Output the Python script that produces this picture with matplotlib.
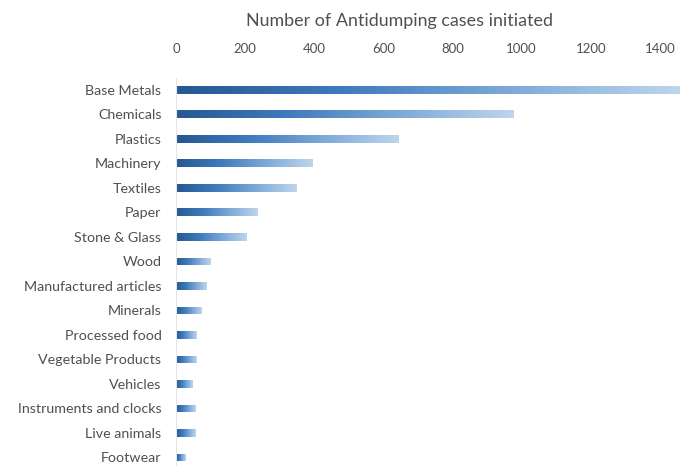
import numpy as np
import matplotlib
matplotlib.use("Agg")
import matplotlib.pyplot as plt
from matplotlib.colors import LinearSegmentedColormap
from matplotlib.patches import Rectangle

categories = [
    "Base Metals", "Chemicals", "Plastics", "Machinery", "Textiles", "Paper",
    "Stone & Glass", "Wood", "Manufactured articles", "Minerals",
    "Processed food", "Vegetable Products", "Vehicles",
    "Instruments and clocks", "Live animals", "Footwear",
]
cases = [1458, 977, 643, 394, 348, 235, 203, 99, 87, 73, 58, 58, 48, 55, 55, 27]
x_ticks = [0, 200, 400, 600, 800, 1000, 1200, 1400]
title = "Number of Antidumping cases initiated"

plt.rcParams["font.family"] = ["Lato", "DejaVu Sans"]

fig = plt.figure(figsize=(6.94, 4.66), dpi=100)
ax = fig.add_axes([0.2536, -0.008, 0.747, 0.8414])

cmap = LinearSegmentedColormap.from_list(
    "bar_grad", ["#245891", "#3f7bbd", "#7eaad8", "#bed5ec"])
grad = np.linspace(0, 1, 256).reshape(1, -1)

bar_h = 0.32
ypos = np.arange(len(categories))
bars = ax.barh(ypos, cases, height=bar_h, color="none", edgecolor="none")
for bar in bars:
    x0, y0 = bar.get_x(), bar.get_y()
    w, h = bar.get_width(), bar.get_height()
    im = ax.imshow(grad, cmap=cmap, aspect="auto",
                   extent=(x0, x0 + w, y0 + h, y0), zorder=2,
                   interpolation="bilinear")
    clip = Rectangle((x0, y0), w, h, transform=ax.transData)
    im.set_clip_path(clip)

ax.set_xlim(0, 1500)
ax.set_ylim(len(categories) - 0.5, -0.5)
ax.set_yticks(ypos)
ax.set_yticklabels(categories, fontsize=10.3, color="#505050")
ax.set_xticks(x_ticks)
ax.set_xticklabels([str(t) for t in x_ticks], fontsize=9.5, color="#505050")
ax.xaxis.tick_top()
ax.tick_params(axis="x", length=0, pad=16.5)
ax.tick_params(axis="y", length=0, pad=10.5)

for s in ["top", "right", "bottom"]:
    ax.spines[s].set_visible(False)
ax.spines["left"].set_color("#e4e4e4")
ax.spines["left"].set_linewidth(0.8)

fig.text(0.575, 0.955, title, ha="center", va="center",
         fontsize=12.9, color="#505050")

fig.savefig("out.png", dpi=100)
